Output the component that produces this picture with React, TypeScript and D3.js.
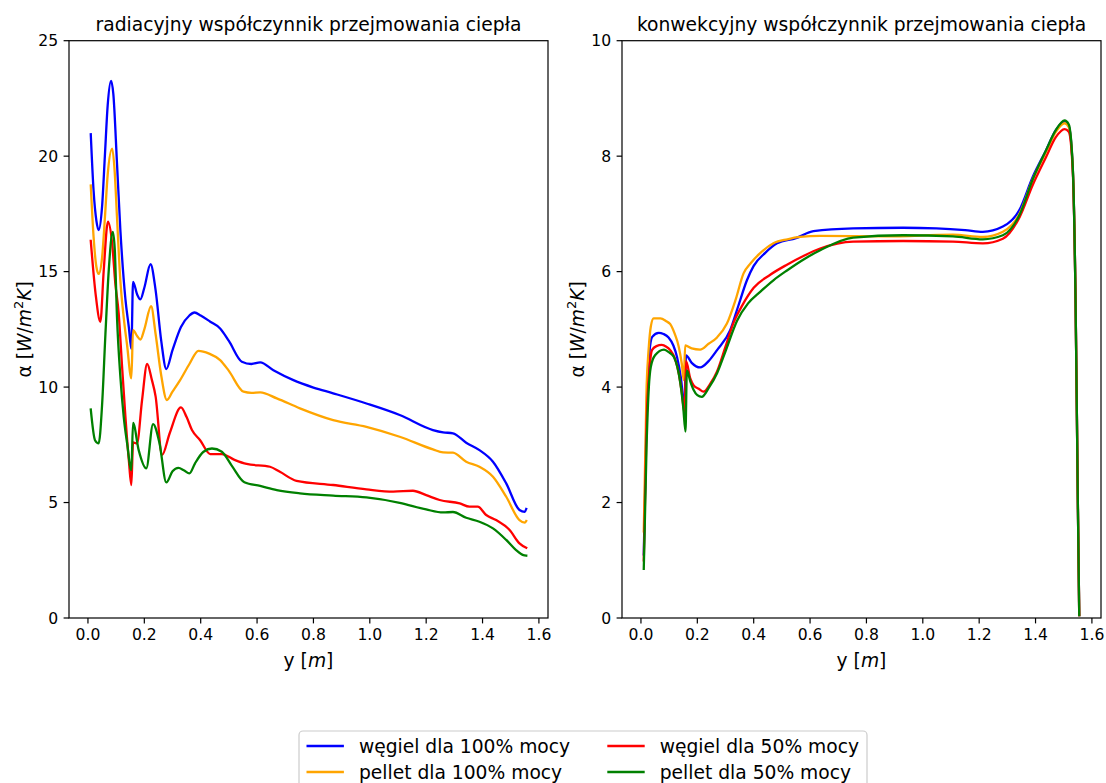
import React from "react";
import * as d3 from "d3";

// ---------- data ----------
const xTicks = [0, 0.2, 0.4, 0.6, 0.8, 1.0, 1.2, 1.4, 1.6];
const yTicksRad = [0, 5, 10, 15, 20, 25];
const yTicksConv = [0, 2, 4, 6, 8, 10];

const seriesNames = ["węgiel dla 100% mocy", "pellet dla 100% mocy", "węgiel dla 50% mocy", "pellet dla 50% mocy"];
const seriesColors = ["#0000ff", "#ffa500", "#ff0000", "#008000"];

// radiative – węgiel 100%
const radCoal100X = [0.01, 0.02, 0.03, 0.038, 0.05, 0.06, 0.07, 0.082, 0.09, 0.103, 0.115, 0.133, 0.145, 0.154, 0.16, 0.175, 0.186, 0.2, 0.222, 0.24, 0.26, 0.278, 0.3, 0.33, 0.36, 0.378, 0.4, 0.434, 0.469, 0.5, 0.546, 0.58, 0.611, 0.658, 0.729, 0.8, 0.87, 0.988, 1.106, 1.224, 1.26, 1.295, 1.342, 1.389, 1.437, 1.484, 1.531, 1.55, 1.555];
const radCoal100Y = [20.95, 18.5, 17.2, 16.8, 17.8, 20.0, 22.2, 23.26, 22.7, 19.7, 16.8, 13.8, 12.6, 11.65, 14.56, 14.0, 13.8, 14.3, 15.32, 14.2, 12.0, 10.78, 11.6, 12.6, 13.1, 13.23, 13.1, 12.83, 12.54, 12.0, 11.1, 11.0, 11.07, 10.73, 10.3, 9.98, 9.73, 9.29, 8.79, 8.14, 8.04, 8.0, 7.59, 7.27, 6.77, 5.83, 4.68, 4.6, 4.72];
// radiative – pellet 100%
const radPellet100X = [0.01, 0.02, 0.03, 0.038, 0.05, 0.06, 0.07, 0.086, 0.095, 0.103, 0.115, 0.127, 0.139, 0.154, 0.16, 0.175, 0.186, 0.2, 0.224, 0.24, 0.26, 0.28, 0.3, 0.327, 0.36, 0.392, 0.43, 0.469, 0.5, 0.552, 0.58, 0.611, 0.67, 0.752, 0.87, 0.988, 1.106, 1.224, 1.26, 1.295, 1.342, 1.389, 1.437, 1.484, 1.531, 1.55, 1.555];
const radPellet100Y = [18.73, 16.5, 15.2, 14.9, 15.6, 17.3, 19.2, 20.33, 19.3, 17.37, 14.6, 13.0, 11.8, 10.38, 12.47, 12.2, 12.06, 12.5, 13.5, 12.3, 10.5, 9.44, 9.8, 10.3, 11.0, 11.57, 11.45, 11.17, 10.7, 9.8, 9.75, 9.77, 9.51, 9.08, 8.57, 8.28, 7.85, 7.3, 7.17, 7.16, 6.77, 6.55, 6.12, 5.25, 4.24, 4.13, 4.2];
// radiative – węgiel 50%
const radCoal50X = [0.01, 0.027, 0.044, 0.056, 0.071, 0.086, 0.097, 0.109, 0.121, 0.133, 0.145, 0.154, 0.16, 0.174, 0.192, 0.21, 0.227, 0.24, 0.263, 0.29, 0.33, 0.35, 0.369, 0.398, 0.434, 0.475, 0.52, 0.563, 0.646, 0.681, 0.74, 0.87, 0.988, 1.083, 1.153, 1.2, 1.248, 1.319, 1.354, 1.383, 1.413, 1.448, 1.496, 1.531, 1.555];
const radCoal50Y = [16.33, 14.05, 12.83, 15.06, 17.16, 16.2, 14.5, 13.2, 10.9, 8.7, 6.84, 5.76, 7.6, 7.56, 9.44, 11.0, 10.3, 9.6, 7.06, 8.0, 9.12, 8.7, 8.14, 7.7, 7.1, 7.1, 6.85, 6.67, 6.55, 6.33, 5.94, 5.76, 5.57, 5.47, 5.51, 5.32, 5.11, 4.96, 4.82, 4.82, 4.46, 4.24, 3.81, 3.23, 3.04];
// radiative – pellet 50%
const radPellet50X = [0.01, 0.025, 0.038, 0.05, 0.062, 0.074, 0.088, 0.095, 0.103, 0.115, 0.127, 0.139, 0.154, 0.16, 0.18, 0.207, 0.231, 0.254, 0.278, 0.3, 0.321, 0.34, 0.36, 0.38, 0.41, 0.44, 0.475, 0.51, 0.555, 0.611, 0.67, 0.752, 0.87, 0.988, 1.106, 1.2, 1.26, 1.295, 1.342, 1.389, 1.437, 1.484, 1.519, 1.545, 1.555];
const radPellet50Y = [9.03, 7.7, 7.56, 9.2, 12.3, 15.1, 16.72, 16.0, 13.04, 10.45, 8.7, 7.56, 6.4, 8.45, 7.27, 6.48, 8.4, 7.56, 5.87, 6.35, 6.5, 6.4, 6.26, 6.7, 7.2, 7.34, 7.2, 6.6, 5.88, 5.72, 5.54, 5.4, 5.3, 5.22, 4.99, 4.7, 4.57, 4.59, 4.34, 4.17, 3.88, 3.38, 2.94, 2.72, 2.7];

// convective – węgiel 100%
const convCoal100X = [0.01, 0.02, 0.03, 0.04, 0.063, 0.08, 0.098, 0.115, 0.128, 0.142, 0.154, 0.16, 0.18, 0.21, 0.24, 0.27, 0.317, 0.345, 0.376, 0.4, 0.44, 0.483, 0.55, 0.612, 0.753, 0.93, 1.048, 1.15, 1.213, 1.284, 1.343, 1.39, 1.437, 1.472, 1.503, 1.518, 1.532, 1.542, 1.55, 1.555];
const convCoal100Y = [1.1, 3.6, 4.6, 4.87, 4.94, 4.92, 4.86, 4.72, 4.52, 4.15, 3.66, 4.55, 4.42, 4.34, 4.45, 4.64, 4.99, 5.4, 5.85, 6.1, 6.32, 6.49, 6.58, 6.7, 6.75, 6.76, 6.75, 6.72, 6.69, 6.78, 7.07, 7.64, 8.1, 8.45, 8.6, 8.52, 7.8, 5.5, 2.04, 0.05];
// convective – pellet 100%
const convPellet100X = [0.01, 0.02, 0.027, 0.035, 0.045, 0.069, 0.09, 0.104, 0.12, 0.134, 0.145, 0.152, 0.157, 0.18, 0.21, 0.24, 0.27, 0.305, 0.335, 0.364, 0.39, 0.423, 0.47, 0.52, 0.564, 0.636, 0.87, 1.107, 1.213, 1.284, 1.343, 1.39, 1.437, 1.472, 1.503, 1.518, 1.532, 1.542, 1.55, 1.555];
const convPellet100Y = [1.5, 4.0, 4.64, 5.05, 5.19, 5.19, 5.14, 5.09, 4.92, 4.7, 4.4, 4.12, 4.72, 4.67, 4.65, 4.75, 4.86, 5.1, 5.5, 5.97, 6.15, 6.32, 6.49, 6.56, 6.6, 6.62, 6.61, 6.64, 6.6, 6.69, 7.0, 7.6, 8.07, 8.42, 8.57, 8.5, 7.8, 5.5, 2.04, 0.05];
// convective – węgiel 50%
const convCoal50X = [0.01, 0.02, 0.03, 0.039, 0.055, 0.074, 0.09, 0.104, 0.12, 0.134, 0.145, 0.155, 0.16, 0.175, 0.187, 0.205, 0.222, 0.245, 0.27, 0.3, 0.329, 0.36, 0.4, 0.46, 0.518, 0.58, 0.636, 0.753, 0.93, 1.107, 1.213, 1.284, 1.343, 1.39, 1.437, 1.472, 1.503, 1.518, 1.532, 1.542, 1.55, 1.555];
const convCoal50Y = [1.0, 3.4, 4.3, 4.64, 4.71, 4.73, 4.7, 4.64, 4.5, 4.24, 3.9, 3.54, 4.45, 4.15, 4.03, 3.97, 3.92, 4.05, 4.27, 4.7, 5.12, 5.42, 5.72, 5.95, 6.12, 6.28, 6.4, 6.52, 6.53, 6.52, 6.49, 6.57, 6.94, 7.5, 7.98, 8.33, 8.47, 8.42, 7.75, 5.5, 2.04, 0.05];
// convective – pellet 50%
const convPellet50X = [0.01, 0.02, 0.028, 0.035, 0.05, 0.082, 0.1, 0.117, 0.13, 0.14, 0.15, 0.158, 0.163, 0.175, 0.187, 0.2, 0.216, 0.24, 0.27, 0.3, 0.341, 0.38, 0.423, 0.47, 0.518, 0.58, 0.636, 0.753, 0.93, 1.107, 1.213, 1.284, 1.343, 1.39, 1.437, 1.472, 1.503, 1.518, 1.532, 1.542, 1.55, 1.555];
const convPellet50Y = [0.85, 3.0, 4.0, 4.35, 4.55, 4.65, 4.6, 4.52, 4.33, 4.06, 3.65, 3.23, 4.29, 4.1, 3.95, 3.86, 3.83, 3.98, 4.24, 4.62, 5.15, 5.45, 5.65, 5.85, 6.02, 6.22, 6.37, 6.59, 6.63, 6.61, 6.56, 6.63, 6.98, 7.6, 8.1, 8.45, 8.62, 8.55, 7.82, 5.5, 2.04, 0.05];

const radSeries = [
  [radCoal100X, radCoal100Y],
  [radPellet100X, radPellet100Y],
  [radCoal50X, radCoal50Y],
  [radPellet50X, radPellet50Y],
];
const convSeries = [
  [convCoal100X, convCoal100Y],
  [convPellet100X, convPellet100Y],
  [convCoal50X, convCoal50Y],
  [convPellet50X, convPellet50Y],
];

// ---------- layout ----------
const W = 1106;
const H = 783;
const TOP = 40.7;
const BOTTOM = 618;
const FONT = "DejaVu Sans, Verdana, sans-serif";
const TICK_FS = 15.6;
const LABEL_FS = 18.7;
const AXIS_COLOR = "#000";
const xMin = 0.01, xMax = 1.555;
const xPad = (xMax - xMin) * 0.05;

function Panel({ x0, x1, yMax, yTicks, series, title, ylabelX }) {
  const x = d3.scaleLinear().domain([xMin - xPad, xMax + xPad]).range([x0, x1]);
  const y = d3.scaleLinear().domain([0, yMax]).range([BOTTOM, TOP]);
  const line = d3.line().x((d) => x(d[0])).y((d) => y(d[1])).curve(d3.curveMonotoneX);
  const tl = 5.4;
  const midY = (TOP + BOTTOM) / 2;
  return (
    <g>
      {series.map(([xs, ys], i) => (
        <path
          key={i}
          d={line(xs.map((v, j) => [v, ys[j]]))}
          fill="none"
          stroke={seriesColors[i]}
          strokeWidth={2.3}
          strokeLinejoin="round"
          strokeLinecap="square"
        />
      ))}
      <rect x={x0} y={TOP} width={x1 - x0} height={BOTTOM - TOP} fill="none" stroke={AXIS_COLOR} strokeWidth={1.2} />
      {xTicks.map((t) => (
        <g key={t}>
          <line x1={x(t)} x2={x(t)} y1={BOTTOM} y2={BOTTOM + tl} stroke={AXIS_COLOR} strokeWidth={1.2} />
          <text x={x(t)} y={BOTTOM + tl + 5.4 + 11.6} textAnchor="middle" fontSize={TICK_FS} fontFamily={FONT} fill="#000">
            {t.toFixed(1)}
          </text>
        </g>
      ))}
      {yTicks.map((t) => (
        <g key={t}>
          <line x1={x0 - tl} x2={x0} y1={y(t)} y2={y(t)} stroke={AXIS_COLOR} strokeWidth={1.2} />
          <text x={x0 - tl - 5.4} y={y(t)} dy="0.36em" textAnchor="end" fontSize={TICK_FS} fontFamily={FONT} fill="#000">
            {t}
          </text>
        </g>
      ))}
      <text x={(x0 + x1) / 2} y={TOP - 9.5} textAnchor="middle" fontSize={LABEL_FS} fontFamily={FONT} fill="#000">
        {title}
      </text>
      <text x={(x0 + x1) / 2} y={667} textAnchor="middle" fontSize={LABEL_FS} fontFamily={FONT} fill="#000">
        y [<tspan fontStyle="italic">m</tspan>]
      </text>
      <text
        transform={`translate(${ylabelX},${midY}) rotate(-90)`}
        textAnchor="middle"
        dy="0.36em"
        fontSize={LABEL_FS}
        fontFamily={FONT}
        fill="#000"
      >
        α [<tspan fontStyle="italic">W</tspan>/<tspan fontStyle="italic">m</tspan>
        <tspan fontSize={LABEL_FS * 0.7} dy={-LABEL_FS * 0.42}>2</tspan>
        <tspan fontStyle="italic" dy={LABEL_FS * 0.42}>K</tspan>]
      </text>
    </g>
  );
}

function Legend() {
  const bx = 299, by = 731, bw = 568, bh = 70;
  const fs = 18.7;
  const pad = 7.5;
  const hl = 37.4;
  const htp = 15;
  const colW = hl + htp + 211 + 37.4;
  const rows = [746, 772];
  return (
    <g>
      <rect x={bx} y={by} width={bw} height={bh} rx={4} ry={4} fill="#fff" fillOpacity={0.8} stroke="#cccccc" strokeWidth={1.2} />
      {seriesNames.map((name, i) => {
        const col = i < 2 ? 0 : 1;
        const row = i % 2;
        const hx = bx + pad + col * colW;
        const cy = rows[row];
        return (
          <g key={name}>
            <line x1={hx} x2={hx + hl} y1={cy} y2={cy} stroke={seriesColors[i]} strokeWidth={2.3} />
            <text x={hx + hl + htp} y={cy} dy="0.36em" fontSize={fs} fontFamily={FONT} fill="#000">
              {name}
            </text>
          </g>
        );
      })}
    </g>
  );
}

export default function App() {
  return (
    <svg width={W} height={H} style={{ position: "absolute", left: 0, top: 0, display: "block", background: "#fff" }}>
      <rect x={0} y={0} width={W} height={H} fill="#fff" />
      <Panel
        x0={69}
        x1={548}
        yMax={25}
        yTicks={yTicksRad}
        series={radSeries}
        title="radiacyjny współczynnik przejmowania ciepła"
        ylabelX={24}
      />
      <Panel
        x0={622}
        x1={1101}
        yMax={10}
        yTicks={yTicksConv}
        series={convSeries}
        title="konwekcyjny współczynnik przejmowania ciepła"
        ylabelX={577}
      />
      <Legend />
    </svg>
  );
}
